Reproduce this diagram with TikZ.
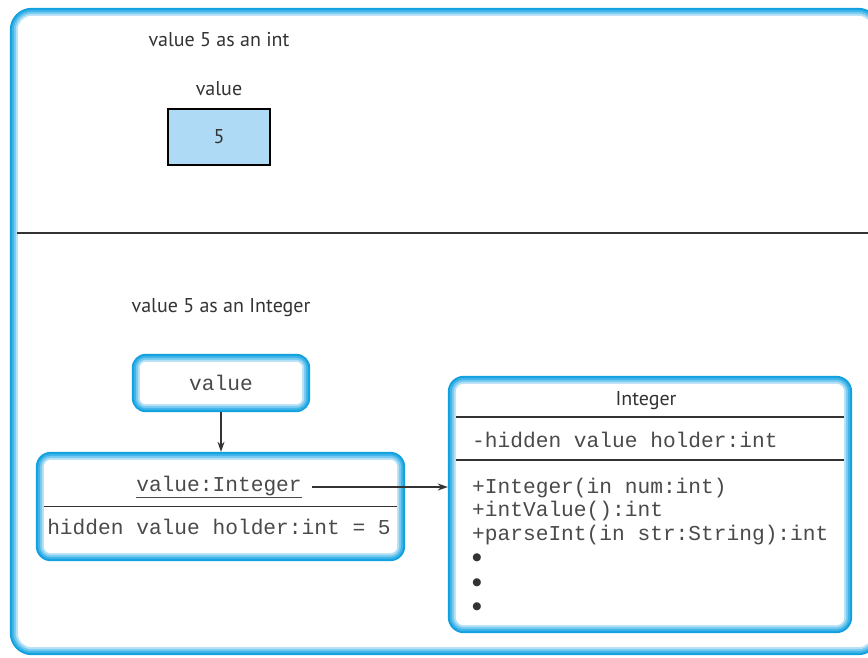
\documentclass[tikz,border=0pt]{standalone}
\usepackage{fontspec}
\setmainfont{PT Sans}
\newfontfamily\monofont{Liberation Mono}
\newfontfamily\symfont{DejaVu Sans}
\usetikzlibrary{calc,arrows.meta,backgrounds}
\definecolor{gA}{HTML}{12A0DF}
\definecolor{gB}{HTML}{3DB3E8}
\definecolor{gC}{HTML}{74C9F0}
\definecolor{gD}{HTML}{B4E0F6}
\definecolor{cellblue}{HTML}{AFDAF5}
\definecolor{ink}{HTML}{333333}
\definecolor{monoink}{HTML}{4A4A4A}
\newcommand\glowbox[2]{% node name, outer radius
  \fill[gA, rounded corners=#2] (#1.north west) rectangle (#1.south east);
  \fill[gB, rounded corners=#2-2pt] ($(#1.north west)+(2,2)$) rectangle ($(#1.south east)+(-2,-2)$);
  \fill[gC, rounded corners=#2-4pt] ($(#1.north west)+(4,4)$) rectangle ($(#1.south east)+(-4,-4)$);
  \fill[gD, rounded corners=#2-6pt] ($(#1.north west)+(6,6)$) rectangle ($(#1.south east)+(-6,-6)$);
  \fill[white, rounded corners=#2-8pt] ($(#1.north west)+(8,8)$) rectangle ($(#1.south east)+(-8,-8)$);
}
\tikzset{
  sanstext/.style={font=\fontsize{20}{24}\selectfont, text=ink, inner sep=0pt},
  monotext/.style={font=\monofont\fontsize{21.2}{25}\selectfont, text=monoink, inner sep=0pt},
  bullettext/.style={font=\symfont\fontsize{10.5}{13}\selectfont, text=ink, inner sep=0pt},
  framenode/.style={rectangle, draw=none, inner sep=0pt},
  rule/.style={draw=ink, line width=1.3pt},
  arrowline/.style={draw=ink, line width=1.1pt, -{Stealth[length=10pt,width=7pt]}},
}
\begin{document}
\begin{tikzpicture}[x=1pt, y=-1pt]
\useasboundingbox (0,0) rectangle (868,657);
% outer frame
\node[framenode, minimum width=870, minimum height=647] (outer) at (445,331.5) {};
% top part
\node[sanstext] (head1) at (219,40) {value 5 as an int};
\node[sanstext] (lab1) at (219,89) {value};
\node[draw=black, line width=1.2pt, fill=cellblue, minimum width=102, minimum height=56, sanstext] (five) at (219,137) {5};
\coordinate (divL) at (17,233);
\coordinate (divR) at (868,233);
% bottom part
\node[sanstext] (head2) at (221,308) {value 5 as an Integer};
\node[framenode, minimum width=178, minimum height=58] (valref) at (221,383) {};
\node[monotext] (valrefT) at (valref.center) {value};
\node[framenode, minimum width=369, minimum height=109] (valobj) at (220.5,506.5) {};
\node[monotext] (objname) at (219,487) {\underline{value:Integer}};
\node[monotext] (objattr) at (219,527) {hidden value holder:int = 5};
\node[framenode, minimum width=404, minimum height=257] (intcls) at (650,504.5) {};
\node[sanstext] (clsname) at (646,401) {Integer};
\node[monotext, anchor=west] (clsattr) at (472,440) {-hidden value holder:int};
\node[monotext, anchor=west] (m1) at (472,488) {+Integer(in num:int)};
\node[monotext, anchor=west] (m2) at (472,511) {+intValue():int};
\node[monotext, anchor=west] (m3) at (472,535) {+parseInt(in str:String):int};
\node[bullettext] (b1) at (477,558) {●};
\node[bullettext] (b2) at (477,583) {●};
\node[bullettext] (b3) at (477,607) {●};
% frames on background
\begin{scope}[on background layer]
  \glowbox{outer}{22pt}
  \glowbox{valref}{14pt}
  \glowbox{valobj}{15pt}
  \glowbox{intcls}{16pt}
\end{scope}
% rules
\draw[rule] (divL) -- (divR);
\draw[rule] ($(valobj.west)+(8,0)$) -- ($(valobj.east)+(-8,0)$);
\draw[rule] (intcls.west |- 0,417) ++(8,0) -- ($(intcls.east |- 0,417)+(-8,0)$);
\draw[rule] (intcls.west |- 0,460) ++(8,0) -- ($(intcls.east |- 0,460)+(-8,0)$);
% connectors
\draw[arrowline] (valref.south) -- (valref.south |- valobj.north);
\draw[arrowline] ($(objname.east)+(10,0)$) -- (intcls.west |- objname.east);
\end{tikzpicture}
\end{document}
